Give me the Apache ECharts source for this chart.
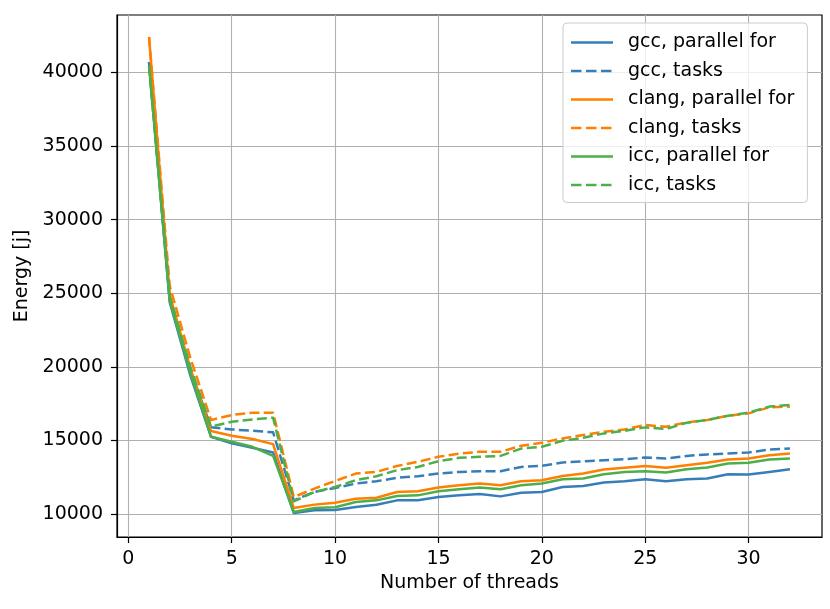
<!DOCTYPE html>
<html>
<head>
<meta charset="utf-8">
<script src="https://cdn.jsdelivr.net/npm/echarts@6/dist/echarts.min.js"></script>
<style>
html,body{margin:0;padding:0;background:#fff;}
#chart{width:830px;height:609px;}
</style>
</head>
<body>
<div id="chart"></div>
<script>
const threads = [1,2,3,4,5,6,7,8,9,10,11,12,13,14,15,16,17,18,19,20,21,22,23,24,25,26,27,28,29,30,31,32];
const gccFor    = [40700,24400,19400,15250,14800,14500,14180,10070,10250,10270,10480,10630,10930,10930,11160,11270,11360,11200,11450,11500,11840,11910,12140,12230,12370,12230,12370,12410,12710,12680,12860,13050];
const gccTasks  = [40700,24600,19800,15900,15750,15660,15550,10930,11500,11770,12070,12230,12460,12570,12750,12865,12910,12910,13200,13270,13500,13590,13660,13730,13840,13770,13950,14050,14110,14180,14390,14450];
const clangFor  = [42400,24900,19900,15640,15320,15095,14750,10410,10640,10770,11040,11110,11500,11550,11800,11960,12070,11960,12230,12300,12590,12750,13020,13140,13270,13140,13320,13480,13700,13770,14000,14110];
const clangTasks= [42400,25500,20600,16390,16730,16890,16890,11160,11730,12250,12750,12865,13270,13550,13890,14110,14230,14230,14640,14840,15140,15370,15590,15750,16050,15930,16230,16390,16680,16840,17250,17300];
const iccFor    = [40450,24500,19600,15250,14910,14570,13950,10140,10410,10460,10820,10930,11230,11270,11550,11680,11800,11680,11960,12070,12370,12410,12710,12860,12910,12820,13050,13160,13430,13480,13700,13770];
const iccTasks  = [40450,24800,20000,15935,16275,16430,16550,10860,11500,11840,12300,12570,12980,13200,13590,13820,13890,13950,14450,14570,14980,15180,15480,15660,15890,15780,16200,16390,16680,16890,17300,17410];
const xTicks = [0,5,10,15,20,25,30];
const yTicks = [10000,15000,20000,25000,30000,35000,40000];
const seriesNames = ['gcc, parallel for','gcc, tasks','clang, parallel for','clang, tasks','icc, parallel for','icc, tasks'];
const seriesDashed = [false,true,false,true,false,true];

const BLUE='#377eb8', ORANGE='#ff7f00', GREEN='#4daf4a';
const FONT='DejaVu Sans';
const FS=19;
const ICON_SOLID='path://M0,0M42,14M0,5.75L42,5.75L42,8.25L0,8.25Z';
const ICON_DASH='path://M0,0M42,14M0,5.75L10.5,5.75L10.5,8.25L0,8.25Z M15,5.75L25.5,5.75L25.5,8.25L15,8.25Z M30,5.75L40.5,5.75L40.5,8.25L30,8.25Z';

function mk(name, vals, color, dashed){
  return {
    name: name, type:'line', symbol:'none',
    data: threads.map((t,i)=>[t, vals[i]]),
    lineStyle:{color:color, width:2.5, type: dashed ? [10,4.3] : 'solid', cap:'butt', join:'round'},
    itemStyle:{color:color},
    emphasis:{disabled:true},
    animation:false
  };
}

const chart = echarts.init(document.getElementById('chart'), null, {renderer:'canvas'});
chart.setOption({
  animation:false,
  backgroundColor:'#ffffff',
  textStyle:{fontFamily:FONT},
  grid:{left:117, right:8, top:15, bottom:72, show:true, borderColor:'#000', borderWidth:1.2, backgroundColor:'transparent'},
  legend:{
    orient:'vertical', left:563, top:23, itemWidth:42, itemHeight:14, itemGap:9.5,
    padding:[10,13,8,8],
    symbolKeepAspect:true,
    itemStyle:{borderWidth:0},
    backgroundColor:'rgba(255,255,255,0.8)', borderColor:'#cccccc', borderWidth:1, borderRadius:4,
    textStyle:{fontFamily:FONT, fontSize:FS, lineHeight:19, color:'#000', padding:[0,0,0,10]},
    data: seriesNames.map((n,i)=>({name:n, icon: seriesDashed[i] ? ICON_DASH : ICON_SOLID}))
  },
  xAxis:{
    type:'value', min:-0.55, max:33.55,
    name:'Number of threads', nameLocation:'middle', nameGap:37,
    nameTextStyle:{fontFamily:FONT, fontSize:FS, color:'#000'},
    axisLine:{show:true, onZero:false, lineStyle:{color:'#000', width:1.2}},
    axisTick:{show:true, length:6, lineStyle:{color:'#000', width:1.2}, customValues:xTicks},
    axisLabel:{color:'#000', fontSize:FS, fontFamily:FONT, margin:13, customValues:xTicks},
    splitLine:{show:true, lineStyle:{color:'#b0b0b0', width:1.1}}
  },
  yAxis:{
    type:'value', min:8440, max:43910,
    name:'Energy [j]', nameLocation:'middle', nameGap:84, nameRotate:90,
    nameTextStyle:{fontFamily:FONT, fontSize:FS, color:'#000'},
    axisLine:{show:true, onZero:false, lineStyle:{color:'#000', width:1.2}},
    axisTick:{show:true, length:6, lineStyle:{color:'#000', width:1.2}, customValues:yTicks},
    axisLabel:{color:'#000', fontSize:FS, fontFamily:FONT, margin:14, customValues:yTicks, formatter:v=>String(v)},
    splitLine:{show:true, lineStyle:{color:'#b0b0b0', width:1.1}}
  },
  series: seriesNames.map((n,i)=>{
    const vals=[gccFor,gccTasks,clangFor,clangTasks,iccFor,iccTasks][i];
    const col=[BLUE,BLUE,ORANGE,ORANGE,GREEN,GREEN][i];
    return mk(n, vals, col, seriesDashed[i]);
  })
});
</script>
</body>
</html>
